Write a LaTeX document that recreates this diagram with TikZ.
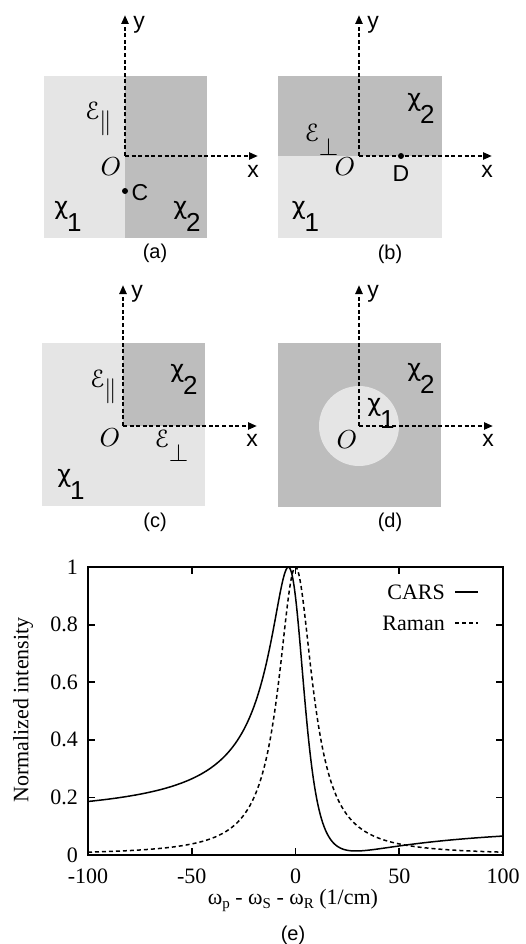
\documentclass[tikz,border=0pt]{standalone}
\usepackage{fontspec}
\setmainfont{Liberation Serif}
\setsansfont{Liberation Sans}
\newfontfamily\chifont{DejaVu Sans}
\usepackage{graphicx}
\usepackage{eucal}
\usetikzlibrary{arrows.meta}
\definecolor{lightreg}{RGB}{229,229,229}
\definecolor{darkreg}{RGB}{189,189,189}
\newcommand{\chisub}[1]{{\chifont\fontsize{24}{24}\selectfont χ}\kern-1pt\raisebox{-17pt}{\sffamily\fontsize{26}{26}\selectfont #1}}
\newcommand{\Epar}{\scalebox{2.5}{\fontsize{10}{10}\selectfont$\mathcal{E}$\kern-0.5pt\raisebox{-4pt}{$\|$}}}
\newcommand{\Eperp}{\scalebox{2.5}{\fontsize{10}{10}\selectfont$\mathcal{E}$\kern-0.5pt\raisebox{-5.5pt}{$\perp$}}}
\newcommand{\Oorig}{\scalebox{2.6}{\fontsize{10}{10}\selectfont$O$}}
\begin{document}
\begin{tikzpicture}[x=1pt,y=-1pt,
  lab/.style={font=\sffamily\fontsize{23}{23}\selectfont, inner sep=0pt},
  chil/.style={inner sep=0pt},
  plab/.style={font=\sffamily\fontsize{20}{20}\selectfont, inner sep=0pt},
  olab/.style={inner sep=0pt},
  elab/.style={inner sep=0pt},
  axisline/.style={line width=2.2pt, dash pattern=on 4pt off 2.6pt, -{Triangle[length=9pt,width=7pt]}},
  dotmark/.style={circle, fill=black, inner sep=0pt, minimum size=6pt},
  tlab/.style={font=\fontsize{22}{22}\selectfont, inner sep=0pt},
  frameline/.style={line width=1.8pt},
  tickline/.style={line width=1.8pt},
  carsline/.style={line width=1.5pt},
  ramanline/.style={line width=1.5pt, dash pattern=on 4pt off 3pt},
  declare function={cd(\d)=\d*\d+100; ca(\d)=1-25.65*\d/cd(\d); cb(\d)=256.5/cd(\d);
    cars(\d)=(ca(\d)*ca(\d)+cb(\d)*cb(\d))/8.462; raman(\d)=100/cd(\d);
    px(\d)=295.5+2.075*\d; py(\v)=855-288*\v;}
]
\useasboundingbox (0,0) rectangle (525,944);

% ---------- panel (a)
\fill[lightreg] (44,76) rectangle (125,238);
\fill[darkreg] (125,76) rectangle (207,238);
\coordinate (oa) at (125,156);
\coordinate (ya) at (125,15);
\coordinate (xa) at (258,156);
\draw[axisline] (oa) -- (ya);
\draw[axisline] (oa) -- (xa);
\node[lab] (yla) at (139,25) {y};
\node[lab] (xla) at (253,171) {x};
\node[olab] (ola) at (111,167) {\Oorig};
\node[elab] (ea) at (98.5,119) {\Epar};
\node[dotmark] (cdot) at (125,191) {};
\node[lab] (clab) at (140,193) {C};
\node[chil] (chi1a) at (68,216) {\chisub{1}};
\node[chil] (chi2a) at (187,216) {\chisub{2}};
\node[plab] (la) at (155,253) {(a)};

% ---------- panel (b)
\fill[lightreg] (278,156) rectangle (442,238);
\fill[darkreg] (278,76) rectangle (442,156);
\coordinate (ob) at (359,156);
\coordinate (yb) at (359,15);
\coordinate (xb) at (492,156);
\draw[axisline] (ob) -- (yb);
\draw[axisline] (ob) -- (xb);
\node[lab] (ylb) at (373,25) {y};
\node[lab] (xlb) at (487,171) {x};
\node[olab] (olb) at (345,167) {\Oorig};
\node[elab] (eb) at (321.5,139.5) {\Eperp};
\node[dotmark] (ddot) at (401,156) {};
\node[lab] (dlab) at (401,174) {D};
\node[chil] (chi1b) at (305.5,216) {\chisub{1}};
\node[chil] (chi2b) at (421,108) {\chisub{2}};
\node[plab] (lb) at (390,254) {(b)};

% ---------- panel (c)
\fill[lightreg] (42,343) rectangle (205,506);
\fill[darkreg] (123,343) rectangle (205,426);
\coordinate (oc) at (123,426);
\coordinate (yc) at (123,285);
\coordinate (xc) at (257,426);
\draw[axisline] (oc) -- (yc);
\draw[axisline] (oc) -- (xc);
\node[lab] (ylc) at (137,294) {y};
\node[lab] (xlc) at (252,440) {x};
\node[olab] (olc) at (110,438) {\Oorig};
\node[elab] (ec1) at (103.5,386.5) {\Epar};
\node[elab] (ec2) at (171.5,445.5) {\Eperp};
\node[chil] (chi1c) at (71,484) {\chisub{1}};
\node[chil] (chi2c) at (184,379) {\chisub{2}};
\node[plab] (lc) at (155,522) {(c)};

% ---------- panel (d)
\fill[darkreg] (278,343) rectangle (441,507);
\fill[lightreg] (359,426) circle (40);
\coordinate (od) at (359,426);
\coordinate (yd) at (359,285);
\coordinate (xd) at (493,426);
\draw[axisline] (od) -- (yd);
\draw[axisline] (od) -- (xd);
\node[lab] (yld) at (373,294) {y};
\node[lab] (xld) at (488,440) {x};
\node[olab] (old) at (347,440) {\Oorig};
\node[chil] (chi1d) at (381,413) {\chisub{1}};
\node[chil] (chi2d) at (421,378) {\chisub{2}};
\node[plab] (ld) at (390,522) {(d)};

% ---------- panel (e)
\draw[carsline] plot[domain=-100:100, samples=401, smooth] ({px(\x)},{py(cars(\x))});
\draw[ramanline] plot[domain=-100:100, samples=401, smooth] ({px(\x)},{py(raman(\x))});
\draw[frameline] (88,567) rectangle (503,855);
\foreach \v in {0.2,0.4,0.6,0.8} {
  \draw[tickline] (88,{py(\v)}) -- ++(7,0);
  \draw[tickline] (503,{py(\v)}) -- ++(-7,0);
}
\foreach \v in {-50,0,50} {
  \draw[tickline] ({px(\v)},855) -- ++(0,-7);
  \draw[tickline] ({px(\v)},567) -- ++(0,7);
}
\foreach \v/\t/\n in {0/0/0,0.2/0.2/1,0.4/0.4/2,0.6/0.6/3,0.8/0.8/4,1/1/5}
  \node[tlab, anchor=east] (yt\n) at (78,{py(\v)}) {\t};
\foreach \v/\n in {-100/0,-50/1,0/2,50/3,100/4}
  \node[tlab] (xt\n) at ({px(\v)},876) {\v};
\node[tlab] (xlab) at (293,900) {ω\raisebox{-4pt}{\fontsize{15}{15}\selectfont p} - ω\raisebox{-4pt}{\fontsize{15}{15}\selectfont S} - ω\raisebox{-4pt}{\fontsize{15}{15}\selectfont R} (1/cm)};
\node[tlab, rotate=90] (ylab) at (23,710) {Normalized intensity};
\node[plab] (le) at (293,935) {(e)};
\node[tlab, anchor=east] (lcars) at (445,592) {CARS};
\node[tlab, anchor=east] (lraman) at (445,623) {Raman};
\coordinate (lc1) at (455,592);
\coordinate (lc2) at (478,592);
\coordinate (lr1) at (455,623);
\coordinate (lr2) at (478,623);
\draw[carsline] (lc1) -- (lc2);
\draw[ramanline] (lr1) -- (lr2);
\end{tikzpicture}
\end{document}
